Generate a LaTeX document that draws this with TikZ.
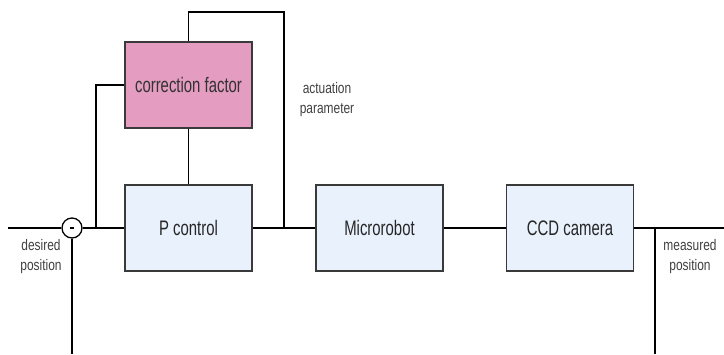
\documentclass[tikz,border=0pt]{standalone}
\usepackage{fontspec}
\newfontfamily\narrowfont[FakeStretch=0.71]{Liberation Sans}
\newfontfamily\smallnarrowfont[FakeStretch=0.78]{Liberation Sans}
\definecolor{pinkbox}{HTML}{E49CC0}
\definecolor{bluebox}{HTML}{E9F1FD}
\definecolor{boxedge}{HTML}{3A3A3A}
\begin{document}
\begin{tikzpicture}[x=1pt,y=-1pt,
  blockbox/.style={draw=boxedge,line width=1.3pt,minimum width=127pt,minimum height=86pt,inner sep=0pt,
    font=\narrowfont\fontsize{21}{24}\selectfont,text=black!85},
  wire/.style={line width=1.8pt,black},
  smalltext/.style={font=\smallnarrowfont\fontsize{15.3}{20}\selectfont,align=center,text=black!75}]
\useasboundingbox (0,0) rectangle (724,354);
\node[blockbox,fill=pinkbox,text=black!80] (cf) at (188.5,85) {correction factor};
\node[blockbox,fill=bluebox] (pc) at (188.5,228) {P control};
\node[blockbox,fill=bluebox] (mr) at (379.5,228) {Microrobot};
\node[blockbox,fill=bluebox] (ccd) at (570,228) {CCD camera};
\node[draw,circle,line width=1.3pt,fill=white,minimum size=20pt,inner sep=0pt] (sum) at (72,228) {};
\fill[black] ([xshift=-2.2pt,yshift=-1.4pt]sum.center) rectangle ([xshift=2.2pt,yshift=1.4pt]sum.center);
\coordinate (in) at (8,228);
\coordinate (out) at (724,228);
\coordinate (j1) at (96,228);
\coordinate (j2) at (284,228);
\coordinate (j3) at (655,228);
\coordinate (top) at (284,12);
\coordinate (fb1) at (655,354);
\coordinate (fb2) at (72,354);
\draw[wire] (in) -- (sum.west);
\draw[wire] (sum.east) -- (pc.west);
\draw[wire] (j1) |- (cf.west);
\draw[wire] (cf.south) -- (pc.north);
\draw[wire] (cf.north) |- (top) -- (j2);
\draw[wire] (pc.east) -- (mr.west);
\draw[wire] (mr.east) -- (ccd.west);
\draw[wire] (ccd.east) -- (out);
\draw[wire] (j3) -- (fb1);
\draw[wire] (sum.south) -- (fb2);
\node[smalltext] (lact) at (327,100) {actuation\\parameter};
\node[smalltext] (ldes) at (41,257) {desired\\position};
\node[smalltext] (lmeas) at (690,257) {measured\\position};
\end{tikzpicture}
\end{document}
